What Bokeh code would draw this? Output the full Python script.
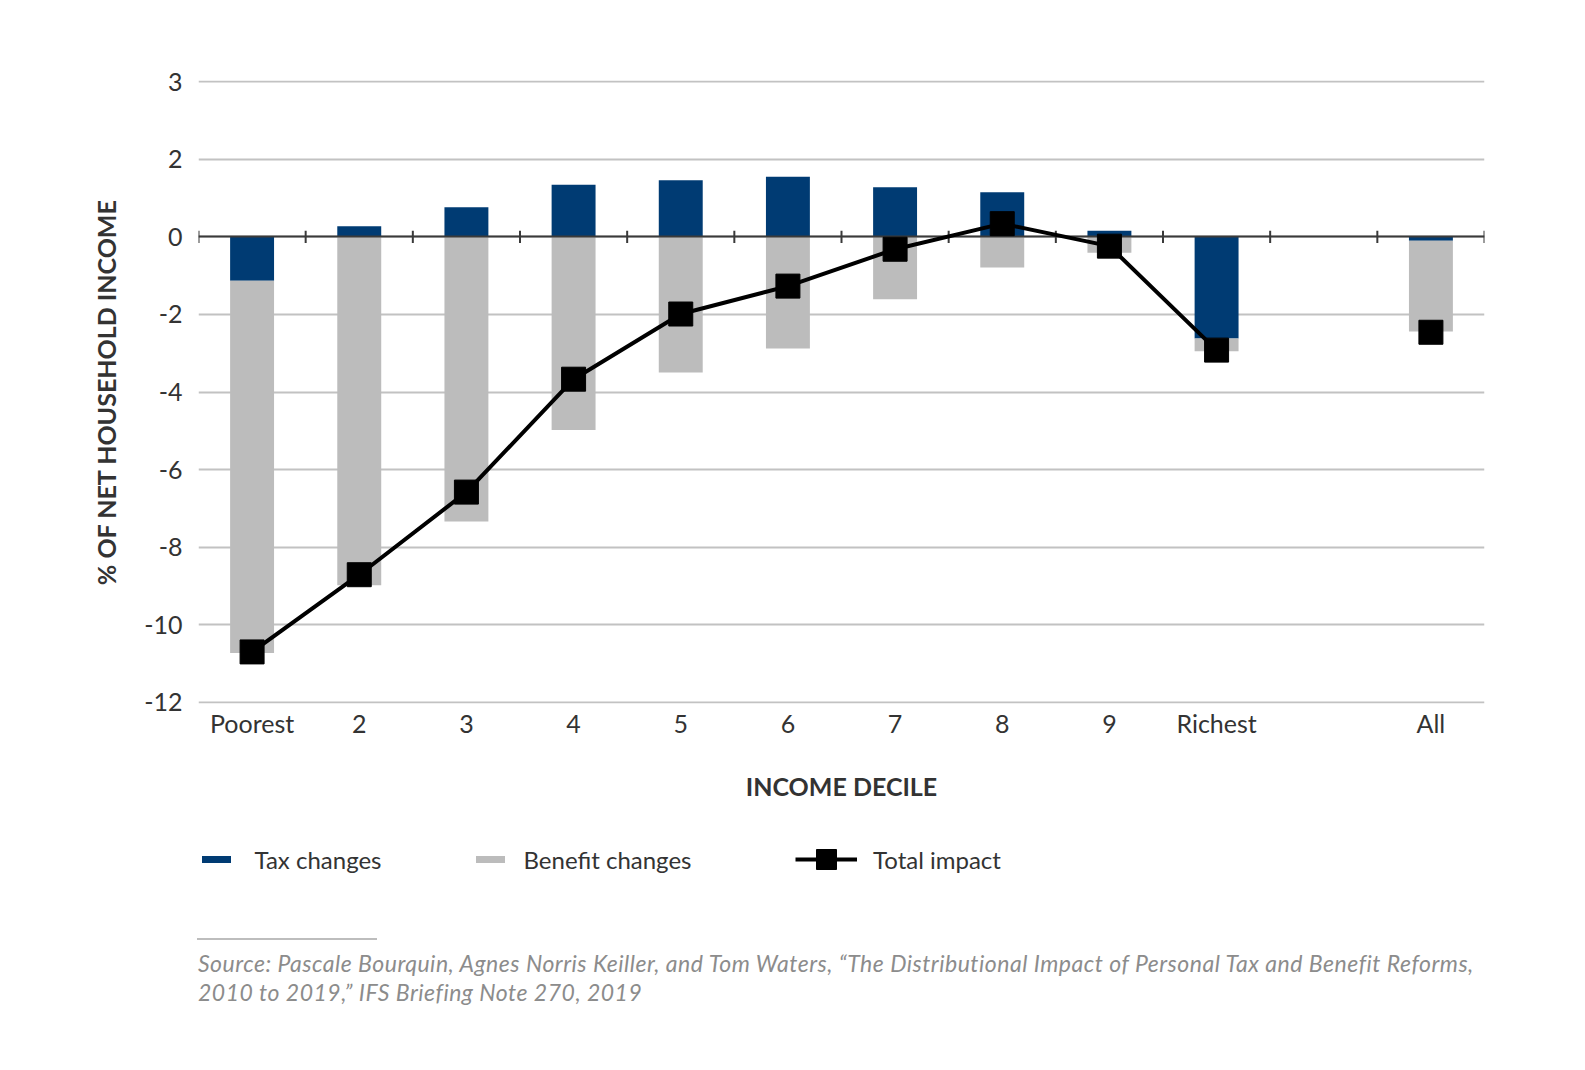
import numpy as np
from bokeh.plotting import figure
from bokeh.models import Range1d, FixedTicker, Legend, LegendItem, Div, ColumnDataSource
from bokeh.layouts import column
from bokeh.embed import file_html
from bokeh.resources import INLINE

# ---------------- data ----------------
categories = ["Poorest", "2", "3", "4", "5", "6", "7", "8", "9", "Richest", "All"]
slots = [0, 1, 2, 3, 4, 5, 6, 7, 8, 9, 11]          # slot 10 is an empty gap
tax_changes = [-1.13, 0.27, 0.76, 1.34, 1.46, 1.55, 1.28, 1.15, 0.16, -2.62, -0.10]
benefit_changes = [-9.60, -8.98, -7.34, -4.98, -3.50, -2.88, -1.61, -0.79, -0.41, -0.33, -2.34]
total_impact = [-10.70, -8.71, -6.58, -3.67, -1.99, -1.27, -0.32, 0.34, -0.24, -2.92, -2.46]
n_deciles = 10
y_ticks = [4, 2, 0, -2, -4, -6, -8, -10, -12]
y_tick_labels = ["3", "2", "0", "-2", "-4", "-6", "-8", "-10", "-12"]

TAX_COLOR = "#003b73"
BEN_COLOR = "#bcbcbc"
GRID_COLOR = "#c2c2c2"
AXIS_COLOR = "#3a3a3a"
TEXT_COLOR = "#333333"
FONT = "Lato"

# stacking (Excel-style: positives up from 0, negatives stack downwards)
tax = np.array(tax_changes)
ben = np.array(benefit_changes)
ben_top = np.minimum(tax, 0)
ben_bottom = ben_top + ben

src = ColumnDataSource(dict(x=slots, tax=tax, zero=np.zeros(len(tax)),
                            ben_top=ben_top, ben_bottom=ben_bottom))

n_slots = 12
x_lo, x_hi = -0.5, n_slots - 0.5
pad = 0.03

W = 1569
p = figure(width=W, height=805, output_backend="svg", toolbar_location=None,
           x_range=Range1d(x_lo, x_hi),
           y_range=Range1d(min(y_ticks) - pad, max(y_ticks) + pad),
           min_border_left=198, min_border_right=W - 1484, min_border_top=80, min_border_bottom=102)
p.outline_line_color = None
p.background_fill_color = "white"
p.border_fill_color = "white"

p.xgrid.visible = False
p.ygrid.grid_line_color = GRID_COLOR
p.ygrid.grid_line_width = 2
p.yaxis.ticker = FixedTicker(ticks=y_ticks)
p.yaxis.major_label_overrides = {t: l for t, l in zip(y_ticks, y_tick_labels)}
p.xaxis.ticker = FixedTicker(ticks=slots)
p.xaxis.major_label_overrides = {s: c for s, c in zip(slots, categories)}

for ax in (p.xaxis[0], p.yaxis[0]):
    ax.axis_line_color = None
    ax.major_tick_line_color = None
    ax.minor_tick_line_color = None
    ax.major_label_text_font = FONT
    ax.major_label_text_font_size = "25px"
    ax.major_label_text_color = TEXT_COLOR
    ax.axis_label_text_font = FONT
    ax.axis_label_text_font_style = "bold"
    ax.axis_label_text_font_size = "25px"
    ax.axis_label_text_color = TEXT_COLOR

p.yaxis.major_label_standoff = 10
p.xaxis.major_label_standoff = -2
p.yaxis.axis_label = "% OF NET HOUSEHOLD INCOME"
p.yaxis.axis_label_standoff = 20
p.xaxis.axis_label = "INCOME DECILE"
p.xaxis.axis_label_standoff = 30

# bars
bar_w = 0.41
p.vbar(x="x", width=bar_w, bottom="zero", top="tax", source=src,
       fill_color=TAX_COLOR, line_color=None)
p.vbar(x="x", width=bar_w, bottom="ben_bottom", top="ben_top", source=src,
       fill_color=BEN_COLOR, line_color=None)

# zero axis line with category boundary ticks
p.hspan(y=[0], line_color=AXIS_COLOR, line_width=2)
bounds = np.arange(x_lo, x_hi + 0.01, 1.0)
p.segment(x0=bounds, y0=-0.16, x1=bounds, y1=0.16, line_color=AXIS_COLOR, line_width=2)

# total impact
p.line(x=slots[:n_deciles], y=total_impact[:n_deciles], line_color="black", line_width=4)
p.scatter(x=slots, y=total_impact, marker="square", size=24,
          fill_color="black", line_color="black")

# ---------------- legend (separate strip so it is not clipped) ----------------
lg_fig = figure(width=W, height=90, output_backend="svg", toolbar_location=None,
                x_axis_type=None, y_axis_type=None, min_border=0,
                x_range=Range1d(0, 1), y_range=Range1d(0, 1))
lg_fig.outline_line_color = None
lg_fig.grid.visible = False

nan = [np.nan]
tax_proxy = lg_fig.line(x=nan, y=nan, line_color=TAX_COLOR, line_width=7, line_cap="round")
ben_proxy = lg_fig.line(x=nan, y=nan, line_color=BEN_COLOR, line_width=7, line_cap="round")
tot_line_proxy = lg_fig.line(x=nan, y=nan, line_color="black", line_width=4)
tot_sq_proxy = lg_fig.scatter(x=nan, y=nan, marker="square", fill_color="black", line_color="black")

def make_legend(label, renderers, vx, gw, standoff):
    lg = Legend(items=[LegendItem(label=label, renderers=renderers)],
                location=(vx, 11), orientation="horizontal",
                glyph_width=gw, glyph_height=50, label_height=50,
                label_standoff=standoff, padding=0, margin=0, spacing=0,
                border_line_color=None, background_fill_alpha=0,
                label_text_font=FONT, label_text_font_size="24px",
                label_text_color=TEXT_COLOR)
    lg_fig.add_layout(lg, "center")

make_legend("Tax changes", [tax_proxy], 3.5, 29, 24)
make_legend("Benefit changes", [ben_proxy], 277.5, 29, 19)
make_legend("Total impact", [tot_line_proxy, tot_sq_proxy], 597, 62, 16)

source_html = (
    '<div style="margin-left:197px;width:180px;border-top:2px solid #bdbdbd;margin-top:43px;"></div>'
    '<div style="margin-left:198px;margin-top:9px;font-family:Lato;font-style:italic;'
    'font-size:23px;letter-spacing:0.5px;line-height:29px;color:#8c8c8c;white-space:nowrap;">'
    'Source: Pascale Bourquin, Agnes Norris Keiller, and Tom Waters, \u201cThe Distributional '
    'Impact of Personal Tax and Benefit Reforms,<br>2010 to 2019,\u201d IFS Briefing Note 270, 2019'
    '</div>'
)
div = Div(text=source_html, width=W, height=120, margin=0)

layout = column(p, lg_fig, div, spacing=0)
open("out.html", "w").write(file_html(layout, INLINE))
